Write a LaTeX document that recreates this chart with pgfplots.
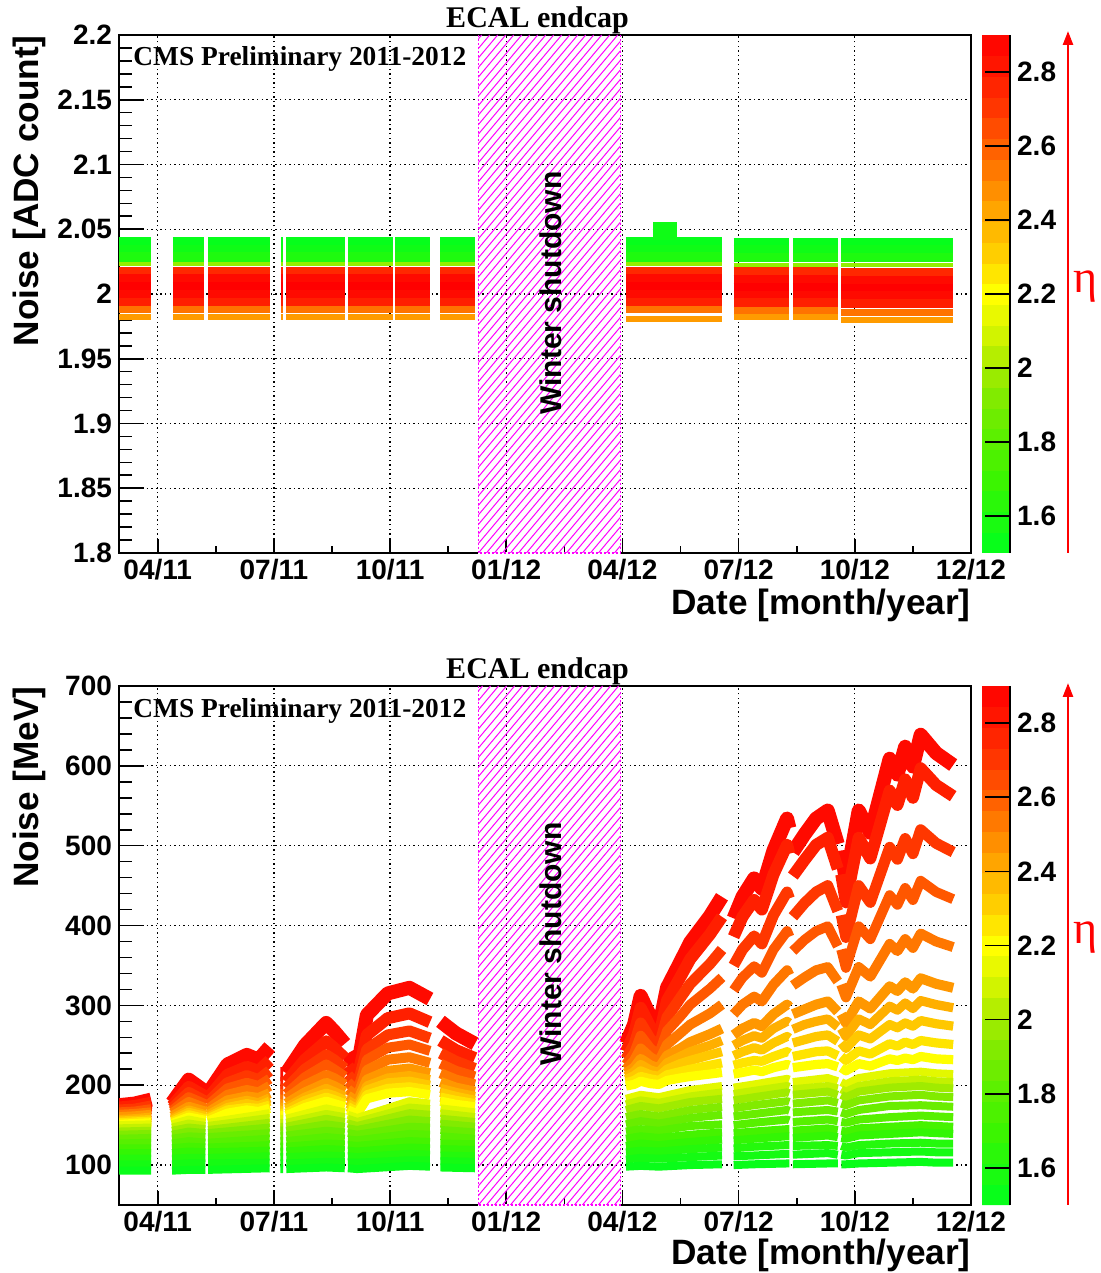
\documentclass[border=0pt]{standalone}
\usepackage{fontspec}
\setmainfont{Liberation Sans}
\newfontfamily\timesfont{Liberation Serif}
\usepackage{pgfplots}
\usepackage{pgfplotstable}
\pgfplotsset{compat=1.18}
\usetikzlibrary{arrows.meta}

\definecolor{c1}{RGB}{255,10,0}
\definecolor{c2}{RGB}{255,31,0}
\definecolor{c3}{RGB}{255,55,0}
\definecolor{c4}{RGB}{255,87,0}
\definecolor{c5}{RGB}{255,119,0}
\definecolor{c6}{RGB}{255,151,0}
\definecolor{c7}{RGB}{255,175,0}
\definecolor{c8}{RGB}{255,200,0}
\definecolor{c9}{RGB}{255,228,0}
\definecolor{c10}{RGB}{255,255,0}
\definecolor{c11}{RGB}{227,248,0}
\definecolor{c12}{RGB}{195,241,0}
\definecolor{c13}{RGB}{160,235,0}
\definecolor{c14}{RGB}{129,235,0}
\definecolor{c15}{RGB}{105,237,0}
\definecolor{c16}{RGB}{87,240,0}
\definecolor{c17}{RGB}{69,243,0}
\definecolor{c18}{RGB}{51,246,4}
\definecolor{c19}{RGB}{36,249,12}
\definecolor{c20}{RGB}{21,251,19}
\definecolor{c21}{RGB}{9,253,25}
\definecolor{tg1}{RGB}{6,254,27}
\definecolor{tg2}{RGB}{15,252,22}
\definecolor{tg3}{RGB}{30,250,15}
\definecolor{tyg}{RGB}{150,238,0}
\definecolor{tr1}{RGB}{255,40,0}
\definecolor{tr2}{RGB}{255,10,0}
\definecolor{tr3}{RGB}{255,0,0}
\definecolor{tr5}{RGB}{255,31,0}
\definecolor{to1}{RGB}{255,115,0}
\definecolor{to2}{RGB}{255,155,0}
\definecolor{hatchmag}{RGB}{255,0,255}
\definecolor{etared}{RGB}{255,0,0}

\newcommand\tickfont{\fontsize{14}{16}\selectfont\bfseries}
\newcommand\labfont{\fontsize{17.6}{20}\selectfont\bfseries}
\newcommand\titfont{\timesfont\fontsize{15}{17}\selectfont\bfseries}
\newcommand\cmsfont{\timesfont\fontsize{13.7}{16}\selectfont\bfseries}

% high-eta rings (MeV), full time grid
\pgfplotstableread{
x r1 r2 r3 r4 r5 r6 r7 r8 r9 r10
2.0 175 172 169 166 163 160 157 155 153 151
2.4 177 174 170 167 164 161 158 156 154 152
2.83 182 178 174 170 166 163 160 157 155 153
3.1 nan nan nan nan nan nan nan nan nan nan
3.37 178 174 171 168 165 161 158 156 154 152
3.8 207 198 191 185 179 173 169 166 163 160
4.23 192 186 180 176 171 167 163 161 158 156
4.26 nan nan nan nan nan nan nan nan nan nan
4.30 190 184 179 175 170 166 163 160 158 155
4.8 226 213 203 196 188 181 176 172 169 165
5.3 238 223 212 203 194 186 181 177 172 169
5.6 232 218 207 199 191 184 178 174 171 167
5.89 248 231 218 208 199 190 184 180 175 171
6.0 nan nan nan nan nan nan nan nan nan nan
6.17 214 203 195 189 182 176 172 168 165 162
6.24 214 203 195 189 182 176 172 168 165 162
6.28 nan nan nan nan nan nan nan nan nan nan
6.32 215 204 196 189 183 177 172 169 165 162
6.8 250 232 220 210 200 191 185 181 176 172
7.35 278 255 238 226 213 203 196 190 185 180
7.55 268 247 232 220 209 199 192 187 182 177
7.83 252 234 221 211 201 192 186 181 177 173
7.87 nan nan nan nan nan nan nan nan nan nan
7.91 240 224 213 204 195 187 181 177 173 169
8.15 220 208 199 192 185 179 174 170 167 164
8.4 288 263 245 232 219 207 199 194 188 183
8.94 315 284 263 247 232 218 209 203 196 190
9.5 322 290 268 251 235 221 212 205 198 192
10.03 308 279 259 243 228 215 207 200 194 188
10.15 nan nan nan nan nan nan nan nan nan nan
10.30 280 256 240 227 215 204 196 191 185 180
10.7 265 244 230 218 207 197 191 186 181 176
11.19 252 234 221 211 201 192 186 181 177 173
13 nan nan nan nan nan nan nan nan nan nan
15.09 252 242 233 226 220 215 211 207 203 199
15.3 276 264 251 240 231 222 217 212 206 201
15.47 312 297 278 262 246 233 226 218 211 205
15.72 286 273 258 246 235 225 219 213 208 202
15.94 272 260 248 238 229 221 216 211 206 201
16.15 322 306 285 268 251 237 228 220 213 206
16.49 354 335 309 286 265 246 236 227 217 209
16.75 379 358 327 301 276 254 242 231 220 211
17.26 412 389 352 321 290 264 250 238 225 214
17.57 436 411 370 335 301 271 256 242 228 216
17.7 nan nan nan nan nan nan nan nan nan nan
17.87 409 386 350 319 289 263 250 237 225 214
18.1 436 411 370 335 301 271 256 242 228 216
18.4 459 432 387 349 311 278 262 247 231 219
18.6 446 420 377 341 305 274 259 244 230 217
18.9 494 464 413 370 326 289 271 253 236 222
19.25 534 501 442 393 344 301 280 261 242 226
19.31 522 490 434 386 338 298 278 259 240 225
19.35 nan nan nan nan nan nan nan nan nan nan
19.40 492 462 411 368 325 289 270 253 236 222
19.7 514 482 428 382 335 295 276 257 239 224
20.0 534 501 442 393 344 301 280 261 242 226
20.3 544 510 450 399 348 305 283 263 243 227
20.56 502 471 418 374 330 292 273 255 237 223
20.6 nan nan nan nan nan nan nan nan nan nan
20.65 494 464 413 370 326 289 271 253 236 222
20.77 456 429 385 347 310 278 261 246 231 218
21.1 544 510 450 399 348 305 283 263 243 227
21.4 516 484 429 383 336 296 276 258 239 224
21.9 609 569 498 438 377 324 299 276 252 233
22.1 589 551 483 426 368 318 294 272 249 231
22.3 624 583 509 447 383 329 303 278 254 234
22.5 599 560 490 432 372 321 296 274 251 232
22.7 639 597 520 456 390 334 306 281 256 236
23.1 616 576 503 442 380 327 301 277 253 233
23.54 601 562 492 433 373 322 297 274 251 232
}\ringsA

% low-eta rings (MeV)
\pgfplotstableread{
x r11 r12 r13 r14 r15 r16 r17 r18 r19 r20 r21
2.0 150 146 142 138 133 127 121 115 108 101 93
2.83 151 147 143 139 134 128 121 115 108 101 93
3.1 nan nan nan nan nan nan nan nan nan nan nan
3.37 151 147 143 138 133 127 121 115 108 101 93
3.8 157 152 147 142 136 130 123 117 109 102 94
4.23 153 149 145 140 135 128 122 116 109 102 94
4.26 nan nan nan nan nan nan nan nan nan nan nan
4.30 153 149 144 140 135 128 122 116 109 102 94
5.89 165 159 153 147 140 133 125 118 111 103 96
6.0 nan nan nan nan nan nan nan nan nan nan nan
6.17 158 153 148 143 137 130 123 117 110 102 95
6.24 158 153 148 143 137 130 123 117 110 102 95
6.28 nan nan nan nan nan nan nan nan nan nan nan
6.32 158 153 148 143 137 130 123 117 110 102 95
7.35 171 164 158 151 143 135 127 120 112 104 97
7.83 166 160 154 148 141 133 126 119 111 104 96
7.87 nan nan nan nan nan nan nan nan nan nan nan
7.91 163 158 152 146 140 132 125 118 111 103 96
8.15 159 154 149 144 138 131 124 117 110 103 95
9.5 180 172 165 157 148 139 130 122 114 106 99
10.03 177 170 163 155 147 138 129 121 113 106 98
10.15 nan nan nan nan nan nan nan nan nan nan nan
10.30 171 165 158 152 144 136 127 120 112 105 97
11.19 166 160 154 148 141 133 126 119 111 104 96
13 nan nan nan nan nan nan nan nan nan nan nan
15.09 183 176 169 160 151 142 133 124 116 107 98
15.47 188 181 174 164 155 145 136 127 118 109 99
15.94 185 178 171 161 152 143 134 125 117 108 98
16.75 194 186 179 169 159 149 138 129 120 110 100
17.57 199 191 183 173 163 151 141 132 122 112 101
17.7 nan nan nan nan nan nan nan nan nan nan nan
17.87 197 189 181 171 161 150 140 131 121 111 100
18.4 201 193 185 175 164 153 142 133 123 112 101
19.25 208 199 191 180 169 157 145 136 125 114 102
19.31 207 198 190 179 168 156 145 136 125 114 102
19.35 nan nan nan nan nan nan nan nan nan nan nan
19.40 204 195 188 177 166 154 143 134 124 113 101
20.3 209 199 192 181 169 157 146 137 125 115 102
20.56 205 196 188 178 167 155 144 135 124 113 102
20.6 nan nan nan nan nan nan nan nan nan nan nan
20.65 204 195 188 177 166 154 143 134 124 113 101
20.77 201 192 185 175 164 153 142 133 122 112 101
21.1 209 199 192 181 169 157 146 137 125 115 102
21.9 215 205 197 186 174 160 148 139 127 116 103
22.7 217 207 199 188 175 162 150 141 128 117 104
23.1 215 205 197 186 174 161 149 140 127 116 103
23.54 214 204 196 185 173 160 148 139 127 116 103
}\ringsB

% ADC-count noise bands
\pgfplotstableread{
x g1 g2 g3 yg r1 r2 r3 r4 r5 o1 o2
2.0 2.0405 2.0345 2.0285 2.023 2.0175 2.0115 2.0055 1.9995 1.9935 1.988 1.9825
2.83 2.0405 2.0345 2.0285 2.023 2.0175 2.0115 2.0055 1.9995 1.9935 1.988 1.9825
3.1 nan nan nan nan nan nan nan nan nan nan nan
3.39 2.0405 2.0345 2.0285 2.023 2.0175 2.0115 2.0055 1.9995 1.9935 1.988 1.9825
4.19 2.0405 2.0345 2.0285 2.023 2.0175 2.0115 2.0055 1.9995 1.9935 1.988 1.9825
4.25 nan nan nan nan nan nan nan nan nan nan nan
4.30 2.0405 2.0345 2.0285 2.023 2.0175 2.0115 2.0055 1.9995 1.9935 1.988 1.9825
5.89 2.0405 2.0345 2.0285 2.023 2.0175 2.0115 2.0055 1.9995 1.9935 1.988 1.9825
6.0 nan nan nan nan nan nan nan nan nan nan nan
6.19 2.0405 2.0345 2.0285 2.023 2.0175 2.0115 2.0055 1.9995 1.9935 1.988 1.9825
6.24 2.0405 2.0345 2.0285 2.023 2.0175 2.0115 2.0055 1.9995 1.9935 1.988 1.9825
6.28 nan nan nan nan nan nan nan nan nan nan nan
6.32 2.0405 2.0345 2.0285 2.023 2.0175 2.0115 2.0055 1.9995 1.9935 1.988 1.9825
7.83 2.0405 2.0345 2.0285 2.023 2.0175 2.0115 2.0055 1.9995 1.9935 1.988 1.9825
7.87 nan nan nan nan nan nan nan nan nan nan nan
7.91 2.0405 2.0345 2.0285 2.023 2.0175 2.0115 2.0055 1.9995 1.9935 1.988 1.9825
9.08 2.0405 2.0345 2.0285 2.023 2.0175 2.0115 2.0055 1.9995 1.9935 1.988 1.9825
9.1 nan nan nan nan nan nan nan nan nan nan nan
9.13 2.0405 2.0345 2.0285 2.023 2.0175 2.0115 2.0055 1.9995 1.9935 1.988 1.9825
10.03 2.0405 2.0345 2.0285 2.023 2.0175 2.0115 2.0055 1.9995 1.9935 1.988 1.9825
10.15 nan nan nan nan nan nan nan nan nan nan nan
10.30 2.0405 2.0345 2.0285 2.023 2.0175 2.0115 2.0055 1.9995 1.9935 1.988 1.9825
11.19 2.0405 2.0345 2.0285 2.023 2.0175 2.0115 2.0055 1.9995 1.9935 1.988 1.9825
13 nan nan nan nan nan nan nan nan nan nan nan
15.09 2.0405 2.0345 2.0285 2.023 2.0175 2.0115 2.0055 1.9995 1.9935 1.988 1.981
17.57 2.0405 2.0345 2.0285 2.023 2.0175 2.0115 2.0055 1.9995 1.9935 1.988 1.981
17.7 nan nan nan nan nan nan nan nan nan nan nan
17.87 2.0400 2.0340 2.0280 2.0225 2.017 2.011 2.005 1.999 1.993 1.9875 1.982
19.31 2.0400 2.0340 2.0280 2.0225 2.017 2.011 2.005 1.999 1.993 1.9875 1.982
19.35 nan nan nan nan nan nan nan nan nan nan nan
19.40 2.0400 2.0340 2.0280 2.0225 2.017 2.011 2.005 1.999 1.993 1.9875 1.982
20.56 2.0400 2.0340 2.0280 2.0225 2.017 2.011 2.005 1.999 1.993 1.9875 1.982
20.6 nan nan nan nan nan nan nan nan nan nan nan
20.65 2.0400 2.0340 2.0280 2.0225 2.0165 2.0105 2.0045 1.9985 1.9925 1.986 1.980
23.54 2.0400 2.0340 2.0280 2.0225 2.0165 2.0105 2.0045 1.9985 1.9925 1.986 1.980
}\adc

\pgfplotsset{
  colormap={ecal}{rgb255(0)=(0,255,30) rgb255(2)=(60,245,0) rgb255(4)=(120,235,0) rgb255(5)=(165,235,0) rgb255(6)=(215,245,0) rgb255(7)=(255,255,0) rgb255(8)=(255,210,0) rgb255(9)=(255,175,0) rgb255(10)=(255,135,0) rgb255(11)=(255,95,0) rgb255(12)=(255,55,0) rgb255(13)=(255,25,0) rgb255(14)=(255,0,0)},
  ecal/.style={
    scale only axis, width=426pt,
    xmin=2, xmax=24,
    xtick={3,6,9,12,15,18,21,24},
    xticklabels={04/11,07/11,10/11,01/12,04/12,07/12,10/12,12/12},
    minor x tick num=1, minor y tick num=4,
    tick pos=left, tick align=inside,
    xtick style={black, line width=0.8pt, /pgfplots/major tick length=7pt, /pgfplots/minor tick length=3.5pt},
    ytick style={black, line width=0.8pt, /pgfplots/major tick length=12.5pt, /pgfplots/minor tick length=6.3pt},
    grid=major,
    grid style={black, line width=0.6pt, dash pattern=on 0.7pt off 1.6pt},
    axis line style={black, line width=1pt},
    ticklabel style={font=\tickfont},
    xticklabel style={inner sep=0.5pt, yshift=-2.6pt},
    /pgf/number format/assume math mode=true,
    unbounded coords=jump,
    point meta min=1.5, point meta max=2.9,
    colorbar sampled,
    colorbar style={
      at={(parent axis.north east)}, anchor=north west, xshift=-3pt,
      scale only axis, width=14pt,
      samples=26,
      ytick={1.6,1.8,2,2.2,2.4,2.6,2.8},
      axis x line=none, axis y line*=right,
      axis line style={black, line width=0.9pt},
      tick align=inside, major tick length=12.5pt,
      ytick style={black, line width=0.8pt},
      yticklabel style={font=\tickfont},
      /pgf/number format/assume math mode=true,
    },
  },
  ring/.style={mark=none, line join=round, draw=#1},
}

% hatch of the winter-shutdown band, drawn in the picture's own frame
% #1 = bottom of the frame, #2 = frame height
\newcommand\winterhatch[2]{%
  \fill[white] (239.2pt,#1-0.8pt) rectangle (310.2pt,#1+0.6pt);
  \begin{scope}
    \clip (239.2pt,#1) rectangle (310.2pt,#1+#2);
    \foreach \k in {-70,...,20}{
      \draw[hatchmag, line width=0.5pt] (239.2pt+\k*4pt,#1) -- ++(#2/1.19,#2);
    }
  \end{scope}
  \draw[hatchmag, line width=0.9pt, dash pattern=on 0.9pt off 1.1pt]
    (239.2pt,#1+#2) -- (239.2pt,#1) -- (310.2pt,#1) -- (310.2pt,#1+#2);
}

\begin{document}
\begin{tikzpicture}
%================ top panel =================
\begin{axis}[ecal, at={(59.5pt,360pt)}, anchor=south west, height=259pt,
  ymin=1.8, ymax=2.2,
  ytick={1.8,1.85,1.9,1.95,2,2.05,2.1,2.15,2.2},
  yticklabel style={/pgf/number format/fixed, /pgf/number format/precision=2},
  colorbar style={height=259pt}]
\addplot[ring=tg1, line width=4.6pt] table[x=x,y=g1]{\adc};
\addplot[ring=tg2, line width=4.6pt] table[x=x,y=g2]{\adc};
\addplot[ring=tg3, line width=4.6pt] table[x=x,y=g3]{\adc};
\addplot[ring=tyg, line width=2pt] table[x=x,y=yg]{\adc};
\addplot[ring=tr1, line width=4.6pt] table[x=x,y=r1]{\adc};
\addplot[ring=tr2, line width=4.6pt] table[x=x,y=r2]{\adc};
\addplot[ring=tr3, line width=4.6pt] table[x=x,y=r3]{\adc};
\addplot[ring=tr2, line width=4.6pt] table[x=x,y=r4]{\adc};
\addplot[ring=tr5, line width=4.6pt] table[x=x,y=r5]{\adc};
\addplot[ring=to1, line width=3.6pt] table[x=x,y=o1]{\adc};
\addplot[ring=to2, line width=3pt] table[x=x,y=o2]{\adc};
\addplot[ring=tg2, line width=9pt] coordinates {(15.8,2.049) (16.4,2.049)};
\end{axis}

%================ bottom panel =================
\begin{axis}[ecal, at={(59.5pt,34pt)}, anchor=south west, height=259.5pt,
  ymin=50, ymax=700,
  ytick={100,200,300,400,500,600,700},
  colorbar style={height=259.5pt}]
\addplot[ring=c1, line width=7pt] table[x=x,y=r1]{\ringsA};
\addplot[ring=c2, line width=6pt] table[x=x,y=r2]{\ringsA};
\addplot[ring=c3, line width=5.5pt] table[x=x,y=r3]{\ringsA};
\addplot[ring=c4, line width=5pt] table[x=x,y=r4]{\ringsA};
\addplot[ring=c5, line width=5pt] table[x=x,y=r5]{\ringsA};
\addplot[ring=c6, line width=5pt] table[x=x,y=r6]{\ringsA};
\addplot[ring=c7, line width=4.6pt] table[x=x,y=r7]{\ringsA};
\addplot[ring=c8, line width=4.6pt] table[x=x,y=r8]{\ringsA};
\addplot[ring=c9, line width=4.6pt] table[x=x,y=r9]{\ringsA};
\addplot[ring=c10, line width=4.6pt] table[x=x,y=r10]{\ringsA};
\addplot[ring=c11, line width=4pt] table[x=x,y=r11]{\ringsB};
\addplot[ring=c12, line width=4pt] table[x=x,y=r12]{\ringsB};
\addplot[ring=c13, line width=4pt] table[x=x,y=r13]{\ringsB};
\addplot[ring=c14, line width=4pt] table[x=x,y=r14]{\ringsB};
\addplot[ring=c15, line width=4pt] table[x=x,y=r15]{\ringsB};
\addplot[ring=c16, line width=4pt] table[x=x,y=r16]{\ringsB};
\addplot[ring=c17, line width=4pt] table[x=x,y=r17]{\ringsB};
\addplot[ring=c18, line width=4pt] table[x=x,y=r18]{\ringsB};
\addplot[ring=c19, line width=4pt] table[x=x,y=r19]{\ringsB};
\addplot[ring=c20, line width=4pt] table[x=x,y=r20]{\ringsB};
\addplot[ring=c21, line width=4pt] table[x=x,y=r21]{\ringsB};
\end{axis}

%================ winter shutdown bands =================
\winterhatch{360pt}{259pt}
\winterhatch{34pt}{259.5pt}
\node[rotate=90, font=\fontsize{15}{17}\selectfont\bfseries] at (275.5pt,490pt) {Winter shutdown};
\node[rotate=90, font=\fontsize{15}{17}\selectfont\bfseries] at (275.5pt,164.5pt) {Winter shutdown};

%================ annotations =================
\node[anchor=base, font=\titfont] at (268.75pt,622.5pt) {ECAL endcap};
\node[anchor=base, font=\titfont] at (268.75pt,297pt) {ECAL endcap};
\node[anchor=base west, font=\cmsfont, inner sep=0pt] at (66.5pt,603.5pt) {CMS Preliminary 2011-2012};
\node[anchor=base west, font=\cmsfont, inner sep=0pt] at (66.5pt,277.5pt) {CMS Preliminary 2011-2012};
\node[rotate=90, anchor=base east, font=\labfont, inner sep=0pt] at (19pt,619pt) {Noise [ADC count]};
\node[rotate=90, anchor=base east, font=\labfont, inner sep=0pt] at (19pt,293.5pt) {Noise [MeV]};
\node[anchor=base east, font=\labfont, inner sep=0pt] at (485.5pt,329.3pt) {Date [month/year]};
\node[anchor=base east, font=\labfont, inner sep=0pt] at (485.5pt,4.4pt) {Date [month/year]};
\draw[etared, line width=1.25pt, -{Triangle[length=7pt,width=5pt]}] (534pt,360pt) -- (534pt,621pt);
\draw[etared, line width=1.25pt, -{Triangle[length=7pt,width=5pt]}] (534pt,34pt) -- (534pt,295pt);
\node[text=etared, font=\timesfont\fontsize{23}{25}\selectfont] at (543pt,493pt) {η};
\node[text=etared, font=\timesfont\fontsize{23}{25}\selectfont] at (543pt,167.5pt) {η};
\pgfresetboundingbox
\path[use as bounding box] (0,0) rectangle (550pt,636.5pt);
\end{tikzpicture}
\end{document}
